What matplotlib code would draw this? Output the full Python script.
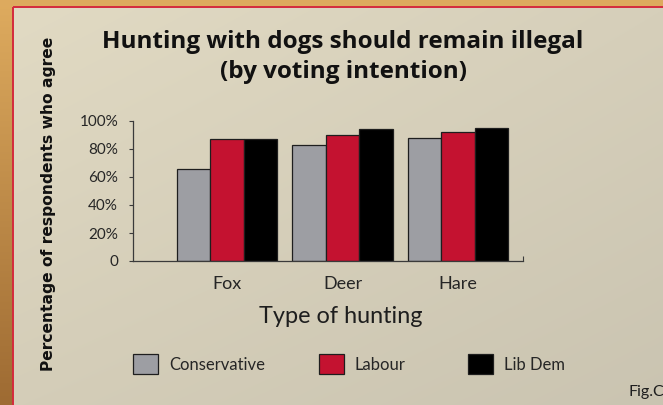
import numpy as np
import matplotlib
matplotlib.use("Agg")
import matplotlib.pyplot as plt
from matplotlib.patches import Rectangle

# ---- data ----
categories = ["Fox", "Deer", "Hare"]
series_names = ["Conservative", "Labour", "Lib Dem"]
conservative = [66, 83, 88]
labour = [87, 90, 92]
lib_dem = [87, 94, 95]
series_values = [conservative, labour, lib_dem]
y_ticks = [0, 20, 40, 60, 80, 100]
y_tick_labels = ["0", "20%", "40%", "60%", "80%", "100%"]

colors = ["#9d9ea3", "#c41230", "#000000"]
W, H = 663, 405

plt.rcParams['font.family'] = ['Lato', 'DejaVu Sans']
fig = plt.figure(figsize=(W / 100, H / 100), dpi=100)

# ---- background (frame + panel) ----
bg = fig.add_axes([0, 0, 1, 1], zorder=-10)
bg.axis("off")
gy = np.linspace(0, 1, 60)[:, None]
gx = np.linspace(0, 1, 60)[None, :]
top_c = np.array([0.87, 0.67, 0.37])
bot_c = np.array([0.62, 0.42, 0.20])
frame = top_c * (1 - gy[..., None]) + bot_c * gy[..., None]
frame = frame + 0 * gx[..., None]
bg.imshow(frame, extent=[0, W, H, 0], aspect="auto", interpolation="bilinear")
tl = np.array([0xe1, 0xda, 0xc3]) / 255
tr = np.array([0xd6, 0xcf, 0xba]) / 255
bl = np.array([0xd4, 0xcd, 0xb8]) / 255
br = np.array([0xca, 0xc4, 0xb1]) / 255
a = gx[..., None]
b = gy[..., None]
panel = (tl * (1 - a) * (1 - b) + tr * a * (1 - b) + bl * (1 - a) * b + br * a * b)
bg.imshow(panel, extent=[12.5, W + 5, H + 5, 6.5], aspect="auto", interpolation="bilinear")
bg.add_patch(Rectangle((12.5, 6.5), W, H, fill=False, edgecolor="#d42a3c", linewidth=1.4))
bg.set_xlim(0, W)
bg.set_ylim(H, 0)

# ---- chart axes ----
ax = fig.add_axes([132.7 / W, 1 - 261 / H, (523.3 - 132.7) / W, (261 - 121) / H])
ax.patch.set_alpha(0)
x = np.arange(len(categories))
w = 0.29
bars = []
for i, (name, vals) in enumerate(zip(series_names, series_values)):
    b_ = ax.bar(x + (i - 1) * w, vals, width=w, color=colors[i], edgecolor="#1e1e1e",
                linewidth=0.9, label=name)
    bars.append(b_)

ax.set_xlim(-0.818, 2.564)
ax.set_ylim(0, 100)
ax.set_yticks(y_ticks)
ax.set_yticklabels(y_tick_labels)
ax.set_xticks(x)
ax.set_xticklabels(categories)
for s in ["top", "right"]:
    ax.spines[s].set_visible(False)
for s in ["left", "bottom"]:
    ax.spines[s].set_color("#3a3a3a")
    ax.spines[s].set_linewidth(0.9)
ax.tick_params(axis="y", direction="out", length=3, width=0.8, color="#3a3a3a",
               pad=7.5, labelsize=11, labelcolor="#262626")
ax.tick_params(axis="x", which="major", length=0, pad=10.5, labelsize=13, labelcolor="#262626")
ax.set_xticks([ax.get_xlim()[1]], minor=True)
ax.tick_params(axis="x", which="minor", direction="in", length=3.5, width=0.8, color="#3a3a3a")

# ---- texts ----
title_font = ["Open Sans", "DejaVu Sans"]
fig.text(343 / W, 1 - 47.7 / H, "Hunting with dogs should remain illegal", ha="center",
         va="baseline", fontsize=17.5, fontweight="bold", color="#111111", family=title_font)
fig.text(343 / W, 1 - 78 / H, "(by voting intention)", ha="center",
         va="baseline", fontsize=17.5, fontweight="bold", color="#111111", family=title_font)
fig.text(341 / W, 1 - 323.3 / H, "Type of hunting", ha="center", va="baseline",
         fontsize=16.9, color="#1e1e1e")
fig.text(53 / W, 1 - 204 / H, "Percentage of respondents who agree", rotation=90,
         rotation_mode="anchor", ha="center", va="baseline", fontsize=11.2,
         fontweight="bold", color="#111111", family=["DejaVu Sans"])
fig.text(628.3 / W, 1 - 395.7 / H, "Fig.C", ha="left", va="baseline", fontsize=11.5,
         color="#1e1e1e")

# ---- legend ----
leg_x = [133.3, 319, 468]
for i, name in enumerate(series_names):
    fig.legend(handles=[bars[i]], labels=[name], loc="center left",
               bbox_to_anchor=(leg_x[i] / W, 1 - 364.2 / H), frameon=False,
               borderpad=0, borderaxespad=0, handlelength=1.5, handleheight=1.5,
               handletextpad=0.64, fontsize=12, labelcolor="#262626")

fig.savefig("out.png", dpi=100)
